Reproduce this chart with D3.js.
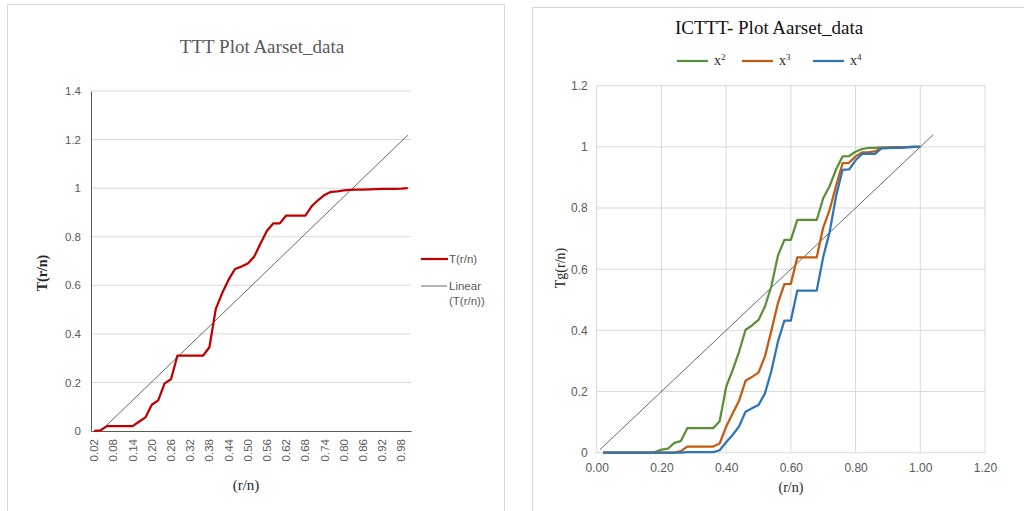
<!DOCTYPE html>
<html>
<head>
<meta charset="utf-8">
<script src="https://cdn.jsdelivr.net/npm/d3@7/dist/d3.min.js"></script>
<style>
  html, body { margin: 0; padding: 0; background: #fff; }
  svg { display: block; }
</style>
</head>
<body>
<svg id="chart" width="1024" height="511"></svg>
<script>
// r/n positions (n = 50 failures)
const rn = d3.range(1, 51).map(r => +(r / 50).toFixed(2));

// Scaled total time on test, T(r/n)
const tttValues = [0.001, 0.003, 0.02, 0.02, 0.02, 0.02, 0.02, 0.038, 0.056, 0.108,
  0.126, 0.196, 0.213, 0.31, 0.31, 0.31, 0.31, 0.31, 0.345, 0.503,
  0.568, 0.623, 0.667, 0.677, 0.69, 0.718, 0.773, 0.825, 0.855, 0.855,
  0.887, 0.887, 0.887, 0.887, 0.926, 0.951, 0.972, 0.985, 0.987, 0.991,
  0.993, 0.994, 0.994, 0.995, 0.996, 0.997, 0.997, 0.997, 0.998, 1.0];

// Incomplete-gamma TTT curves for the three transforms
const tgX2 = [0, 0, 0, 0, 0, 0, 0, 0, 0.002, 0.01,
  0.013, 0.032, 0.038, 0.08, 0.08, 0.08, 0.08, 0.08, 0.103, 0.215,
  0.27, 0.33, 0.402, 0.416, 0.434, 0.478, 0.545, 0.644, 0.696, 0.696,
  0.761, 0.761, 0.761, 0.761, 0.832, 0.872, 0.927, 0.969, 0.97, 0.984,
  0.993, 0.997, 0.997, 0.998, 0.998, 0.999, 0.999, 0.999, 1.0, 1.0];
const tgX3 = [0, 0, 0, 0, 0, 0, 0, 0, 0, 0,
  0, 0, 0.005, 0.02, 0.02, 0.02, 0.02, 0.02, 0.03, 0.085,
  0.128, 0.17, 0.235, 0.248, 0.262, 0.315, 0.4, 0.489, 0.551, 0.552,
  0.639, 0.639, 0.639, 0.639, 0.736, 0.795, 0.873, 0.947, 0.948, 0.969,
  0.982, 0.983, 0.985, 0.996, 0.997, 0.998, 0.998, 0.999, 1.0, 1.0];
const tgX4 = [0, 0, 0, 0, 0, 0, 0, 0, 0, 0,
  0, 0, 0, 0.002, 0.002, 0.002, 0.002, 0.002, 0.008, 0.034,
  0.058, 0.086, 0.134, 0.145, 0.156, 0.194, 0.268, 0.363, 0.432, 0.432,
  0.53, 0.53, 0.53, 0.53, 0.64, 0.722, 0.84, 0.925, 0.926, 0.956,
  0.977, 0.977, 0.977, 0.995, 0.996, 0.997, 0.997, 0.999, 1.0, 1.0];

// Diagonal reference line Tg = r/n
const diagonalX = [0.01, 1.04];

const leftTicksY = [0, 0.2, 0.4, 0.6, 0.8, 1, 1.2, 1.4];
const rightTicksX = [0, 0.2, 0.4, 0.6, 0.8, 1.0, 1.2];
const rightTicksY = [0, 0.2, 0.4, 0.6, 0.8, 1, 1.2];

const seriesNames = ["x2", "x3", "x4"];
const seriesSup = ["2", "3", "4"];
const seriesColors = ["#5B8F3A", "#C55A11", "#2E75B6"];

const SERIF = "'Liberation Serif', 'Times New Roman', serif";
const SANS = "'Liberation Sans', Arial, sans-serif";
const svg = d3.select("#chart");

// Panel frames
svg.append("rect").attr("x", 7.5).attr("y", 4.5).attr("width", 497).attr("height", 530)
  .attr("fill", "#fff").attr("stroke", "#d9d9d9");
svg.append("rect").attr("x", 532.5).attr("y", 7.5).attr("width", 520).attr("height", 530)
  .attr("fill", "#fff").attr("stroke", "#d9d9d9");

// ---------------- Left: TTT plot ----------------
const L = { left: 91, right: 411, top: 91, bottom: 431 };
const xL = d3.scaleBand().domain(rn).range([L.left, L.right]).padding(0);
const cx = v => xL(v) + xL.bandwidth() / 2;
const yL = d3.scaleLinear().domain([0, 1.4]).range([L.bottom, L.top]);

const gL = svg.append("g");

// horizontal gridlines
gL.append("g").selectAll("line").data(leftTicksY.filter(d => d > 0)).join("line")
  .attr("x1", L.left).attr("x2", L.right)
  .attr("y1", d => yL(d)).attr("y2", d => yL(d))
  .attr("stroke", "#d9d9d9").attr("stroke-width", 1);

// y axis
const yAxisL = d3.axisLeft(yL).tickValues(leftTicksY).tickSize(0).tickPadding(10)
  .tickFormat(d => String(+d.toFixed(1)));
gL.append("g").attr("transform", `translate(${L.left},0)`).call(yAxisL)
  .call(g => g.select(".domain").attr("stroke", "#595959"))
  .call(g => g.selectAll("text").attr("fill", "#595959").attr("font-family", SANS).attr("font-size", 11.5));

// x axis (category)
const xAxisL = d3.axisBottom(xL).tickValues(rn.filter((d, i) => i % 3 === 0)).tickSize(0)
  .tickFormat(d => d.toFixed(2));
gL.append("g").attr("transform", `translate(0,${L.bottom})`).call(xAxisL)
  .call(g => g.select(".domain").attr("stroke", "#595959"))
  .call(g => g.selectAll("text")
    .attr("fill", "#595959").attr("font-family", SANS).attr("font-size", 11.5)
    .attr("transform", "rotate(-90)")
    .attr("x", -8).attr("y", 0).attr("dy", "0.35em")
    .attr("text-anchor", "end"));

// clip for the trendline
svg.append("clipPath").attr("id", "clipL").append("rect")
  .attr("x", L.left).attr("y", L.top).attr("width", L.right - L.left).attr("height", L.bottom - L.top);

// least-squares linear trend over category index 1..n
const idx = tttValues.map((d, i) => i + 1);
const mx = d3.mean(idx), my = d3.mean(tttValues);
const slope = d3.sum(idx, (x, i) => (x - mx) * (tttValues[i] - my)) / d3.sum(idx, x => (x - mx) ** 2);
const icpt = my - slope * mx;
const trend = [rn[0], rn[rn.length - 1]].map((v, k) => [cx(v), yL(icpt + slope * (k === 0 ? 1 : rn.length))]);
gL.append("path").attr("clip-path", "url(#clipL)")
  .attr("d", d3.line()(trend))
  .attr("fill", "none").attr("stroke", "#404040").attr("stroke-width", 0.8);

// TTT curve
gL.append("path")
  .datum(rn.map((v, i) => [v, tttValues[i]]))
  .attr("d", d3.line().x(d => cx(d[0])).y(d => yL(d[1])))
  .attr("fill", "none").attr("stroke", "#C00000").attr("stroke-width", 2.25)
  .attr("stroke-linejoin", "round");

// titles
gL.append("text").attr("x", 262).attr("y", 53).attr("text-anchor", "middle")
  .attr("font-family", SERIF).attr("font-size", 19).attr("fill", "#595959")
  .text("TTT Plot Aarset_data");
gL.append("text").attr("x", 246).attr("y", 490).attr("text-anchor", "middle")
  .attr("font-family", SERIF).attr("font-size", 15).attr("fill", "#262626")
  .text("(r/n)");
gL.append("text").attr("transform", "translate(47,273) rotate(-90)").attr("text-anchor", "middle")
  .attr("font-family", SERIF).attr("font-size", 14).attr("font-weight", "bold").attr("fill", "#262626")
  .text("T(r/n)");

// legend
const lg = gL.append("g").attr("font-family", SANS).attr("font-size", 11.5).attr("fill", "#595959");
lg.append("line").attr("x1", 421).attr("x2", 448).attr("y1", 259).attr("y2", 259)
  .attr("stroke", "#C00000").attr("stroke-width", 2.25);
lg.append("text").attr("x", 449).attr("y", 263).text("T(r/n)");
lg.append("line").attr("x1", 421).attr("x2", 447).attr("y1", 286).attr("y2", 286)
  .attr("stroke", "#404040").attr("stroke-width", 0.8);
lg.append("text").attr("x", 449).attr("y", 290).text("Linear");
lg.append("text").attr("x", 449).attr("y", 305).text("(T(r/n))");

// ---------------- Right: ICTTT plot ----------------
const R = { left: 596.7, right: 985, top: 85.7, bottom: 452.7 };
const xR = d3.scaleLinear().domain([0, 1.2]).range([R.left, R.right]);
const yR = d3.scaleLinear().domain([0, 1.2]).range([R.bottom, R.top]);
const gR = svg.append("g");

// gridlines
gR.append("g").selectAll("line").data(rightTicksY).join("line")
  .attr("x1", R.left).attr("x2", R.right)
  .attr("y1", d => yR(d)).attr("y2", d => yR(d))
  .attr("stroke", "#d9d9d9").attr("stroke-width", 1);
gR.append("g").selectAll("line").data(rightTicksX).join("line")
  .attr("y1", R.top).attr("y2", R.bottom)
  .attr("x1", d => xR(d)).attr("x2", d => xR(d))
  .attr("stroke", "#d9d9d9").attr("stroke-width", 1);

gR.append("g").attr("transform", `translate(${R.left},0)`)
  .call(d3.axisLeft(yR).tickValues(rightTicksY).tickSize(0).tickPadding(9)
    .tickFormat(d => String(+d.toFixed(1))))
  .call(g => g.select(".domain").remove())
  .call(g => g.selectAll("text").attr("fill", "#595959").attr("font-family", SANS).attr("font-size", 12));

gR.append("g").attr("transform", `translate(0,${R.bottom})`)
  .call(d3.axisBottom(xR).tickValues(rightTicksX).tickSize(0).tickPadding(11)
    .tickFormat(d3.format(".2f")))
  .call(g => g.select(".domain").remove())
  .call(g => g.selectAll("text").attr("fill", "#595959").attr("font-family", SANS).attr("font-size", 12));

// diagonal
gR.append("path")
  .attr("d", d3.line().x(d => xR(d)).y(d => yR(d))(diagonalX))
  .attr("fill", "none").attr("stroke", "#404040").attr("stroke-width", 0.8);

// curves
const curveData = [tgX2, tgX3, tgX4];
const lineR = d3.line().x(d => xR(d[0])).y(d => yR(d[1]));
curveData.forEach((vals, k) => {
  gR.append("path")
    .datum(rn.map((v, i) => [v, vals[i]]))
    .attr("d", lineR)
    .attr("fill", "none").attr("stroke", seriesColors[k]).attr("stroke-width", 2.25)
    .attr("stroke-linejoin", "round");
});

// titles
gR.append("text").attr("x", 769).attr("y", 34).attr("text-anchor", "middle")
  .attr("font-family", SERIF).attr("font-size", 19).attr("fill", "#111")
  .text("ICTTT- Plot Aarset_data");
gR.append("text").attr("x", 791).attr("y", 492).attr("text-anchor", "middle")
  .attr("font-family", SERIF).attr("font-size", 14).attr("fill", "#262626")
  .text("(r/n)");
gR.append("text").attr("transform", "translate(565,268) rotate(-90)").attr("text-anchor", "middle")
  .attr("font-family", SERIF).attr("font-size", 14).attr("fill", "#262626")
  .text("Tg(r/n)");

// legend
const legX = [677, 742, 813];
seriesNames.forEach((name, k) => {
  const g = gR.append("g");
  g.append("line").attr("x1", legX[k]).attr("x2", legX[k] + 31).attr("y1", 61).attr("y2", 61)
    .attr("stroke", seriesColors[k]).attr("stroke-width", 2.25);
  const t = g.append("text").attr("x", legX[k] + 37).attr("y", 65)
    .attr("font-family", SERIF).attr("font-size", 14).attr("fill", "#262626");
  t.append("tspan").text("x");
  t.append("tspan").attr("dy", -5).attr("font-size", 9).text(seriesSup[k]);
});
</script>
</body>
</html>
